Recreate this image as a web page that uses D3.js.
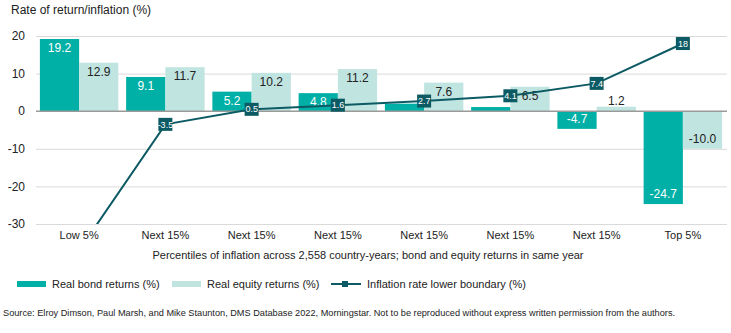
<!DOCTYPE html>
<html>
<head>
<meta charset="utf-8">
<script src="https://cdn.jsdelivr.net/npm/d3@7"></script>
<style>
  body { margin: 0; background: #fff; }
  svg { display: block; font-family: "Liberation Sans", Arial, sans-serif; }
  .grid line { stroke: #dadada; stroke-width: 1; }
  .tick-label { font-size: 12px; fill: #222; }
  .cat-label { font-size: 11px; fill: #222; }
  .bar-label { font-size: 12px; }
  .legend-text { font-size: 11px; fill: #222; }
</style>
</head>
<body>
<svg width="731" height="333"></svg>
<script>
const categories = ['Low 5%', 'Next 15%', 'Next 15%', 'Next 15%', 'Next 15%', 'Next 15%', 'Next 15%', 'Top 5%'];
const bondReturns = [19.2, 9.1, 5.2, 4.8, 2.0, 1.1, -4.7, -24.7];
const equityReturns = [12.9, 11.7, 10.2, 11.2, 7.6, 6.5, 1.2, -10.0];
const inflationLower = [-37, -3.5, 0.5, 1.6, 2.7, 4.1, 7.4, 18];
// bond bars 5 and 6 carry no value label
const bondLabelShown = [true, true, true, true, false, false, true, true];
const yTicks = [20, 10, 0, -10, -20, -30];

const bondColor = '#00afa6';
const equityColor = '#c0e4e0';
const lineColor = '#0c5a63';

const svg = d3.select('svg');

const x = d3.scaleBand()
  .domain(d3.range(categories.length))
  .range([36, 726])
  .paddingInner(0.09)
  .paddingOuter(0.045);

const xSeries = d3.scaleBand()
  .domain(['bond', 'equity'])
  .range([0, x.bandwidth()]);

const y = d3.scaleLinear().domain([-30, 20]).range([224, 36]);

const fmt = v => v.toFixed(1);

// title
svg.append('text')
  .attr('x', 11).attr('y', 14)
  .attr('font-size', 12).attr('fill', '#222')
  .text('Rate of return/inflation (%)');

// gridlines + tick labels
const grid = svg.append('g').attr('class', 'grid');
grid.selectAll('line').data(yTicks.filter(d => d !== 0))
  .enter().append('line')
    .attr('x1', 36).attr('x2', 727)
    .attr('y1', d => y(d) + 0.5).attr('y2', d => y(d) + 0.5);

svg.selectAll('.tick-label').data(yTicks)
  .enter().append('text')
    .attr('class', 'tick-label')
    .attr('x', 25)
    .attr('y', d => y(d))
    .attr('dy', '0.35em')
    .attr('text-anchor', 'end')
    .text(d => d);

// bars
const rows = categories.map((c, i) => ({
  i,
  bond: bondReturns[i],
  equity: equityReturns[i]
}));

const groups = svg.selectAll('.grp').data(rows)
  .enter().append('g')
    .attr('class', 'grp')
    .attr('transform', d => `translate(${x(d.i)},0)`);

function drawBars(key, color, textColor) {
  groups.append('rect')
    .attr('x', xSeries(key))
    .attr('width', xSeries.bandwidth())
    .attr('y', d => y(Math.max(0, d[key])))
    .attr('height', d => Math.abs(y(d[key]) - y(0)))
    .attr('fill', color);

  groups.filter(d => key !== 'bond' || bondLabelShown[d.i])
    .append('text')
    .attr('class', 'bar-label')
    .attr('x', xSeries(key) + xSeries.bandwidth() / 2)
    .attr('text-anchor', 'middle')
    .attr('dy', '0.35em')
    .attr('fill', d => Math.abs(y(d[key]) - y(0)) < 16 ? '#222' : textColor)
    .attr('y', d => {
      const h = Math.abs(y(d[key]) - y(0));
      if (h < 16) return y(d[key]) - 6;
      return d[key] >= 0 ? y(d[key]) + 9 : y(d[key]) - 10;
    })
    .text(d => fmt(d[key]));
}

drawBars('bond', bondColor, '#fff');
drawBars('equity', equityColor, '#222');

// zero line
svg.append('line')
  .attr('x1', 36).attr('x2', 727)
  .attr('y1', y(0)).attr('y2', y(0))
  .attr('stroke', '#9a9a9a').attr('stroke-width', 1.5);

// inflation line, clipped to the plot area
svg.append('clipPath').attr('id', 'plot-clip')
  .append('rect').attr('x', 36).attr('y', 20).attr('width', 700).attr('height', y(-30) - 20);

const cx = i => x(i) + x.bandwidth() / 2;
const line = d3.line().x((d, i) => cx(i)).y(d => y(d));

const lineG = svg.append('g').attr('clip-path', 'url(#plot-clip)');
lineG.append('path')
  .datum(inflationLower)
  .attr('d', line)
  .attr('fill', 'none')
  .attr('stroke', lineColor)
  .attr('stroke-width', 2);

const markers = lineG.selectAll('.mk').data(inflationLower)
  .enter().append('g')
    .attr('class', 'mk')
    .attr('transform', (d, i) => `translate(${cx(i)},${y(d)})`);
markers.append('rect')
  .attr('x', -7).attr('y', -6.5).attr('width', 14).attr('height', 13)
  .attr('fill', lineColor);
markers.append('text')
  .attr('text-anchor', 'middle').attr('dy', '0.35em')
  .attr('font-size', 9).attr('fill', '#fff')
  .text(d => d);

// category labels
svg.selectAll('.cat-label').data(categories)
  .enter().append('text')
    .attr('class', 'cat-label')
    .attr('x', (d, i) => cx(i))
    .attr('y', 239)
    .attr('text-anchor', 'middle')
    .text(d => d);

svg.append('text')
  .attr('x', 368).attr('y', 259)
  .attr('text-anchor', 'middle')
  .attr('font-size', 11).attr('fill', '#222')
  .text('Percentiles of inflation across 2,558 country-years; bond and equity returns in same year');

// legend
const legend = svg.append('g').attr('transform', 'translate(0,284)');
legend.append('rect').attr('x', 17).attr('y', -3).attr('width', 29).attr('height', 6).attr('fill', bondColor);
legend.append('text').attr('class', 'legend-text').attr('x', 52).attr('dy', '0.35em').text('Real bond returns (%)');
legend.append('rect').attr('x', 172).attr('y', -3).attr('width', 29).attr('height', 6).attr('fill', equityColor);
legend.append('text').attr('class', 'legend-text').attr('x', 207).attr('dy', '0.35em').text('Real equity returns (%)');
legend.append('line').attr('x1', 331).attr('x2', 361).attr('stroke', lineColor).attr('stroke-width', 2);
legend.append('rect').attr('x', 342).attr('y', -3).attr('width', 6).attr('height', 6).attr('fill', lineColor);
legend.append('text').attr('class', 'legend-text').attr('x', 367).attr('dy', '0.35em').text('Inflation rate lower boundary (%)');

// source note
svg.append('text')
  .attr('x', 3).attr('y', 316)
  .attr('font-size', 9.2).attr('fill', '#222')
  .text('Source: Elroy Dimson, Paul Marsh, and Mike Staunton, DMS Database 2022, Morningstar. Not to be reproduced without express written permission from the authors.');
</script>
</body>
</html>
